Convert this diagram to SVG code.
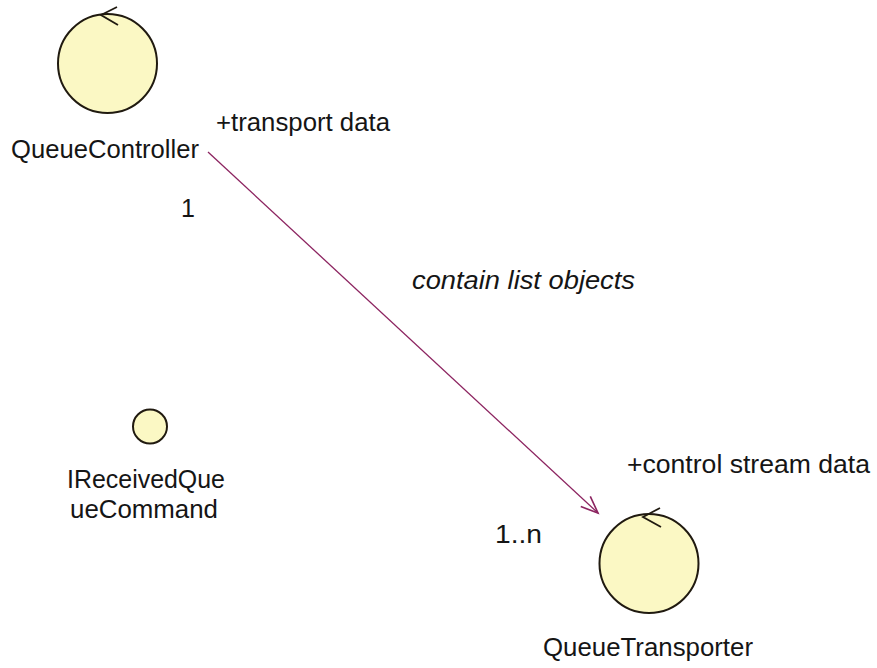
<svg xmlns="http://www.w3.org/2000/svg" width="877" height="668" viewBox="0 0 877 668">
<style>
.node{fill:#fbf8c4;stroke:#201a10;stroke-width:2}
.lbl{font-family:"Liberation Sans",Arial,sans-serif;font-size:25px;fill:#151515}
.it{font-style:italic}
.conn{stroke:#8c2460;stroke-width:1.3;fill:none}
.tick{stroke:#201a10;stroke-width:1.8;fill:none}
</style>
<defs>
<marker id="open" markerWidth="24" markerHeight="24" refX="20" refY="10" orient="auto" markerUnits="userSpaceOnUse">
<path d="M3,3 L20,10 L3,17" fill="none" stroke="#8c2460" stroke-width="1.6"/>
</marker>
</defs>
<rect width="877" height="668" fill="#ffffff"/>
<g id="QueueController">
<circle class="node" cx="107.5" cy="63.5" r="49.5"/>
<path class="tick" d="M117,7 L101,15 L118,25"/>
<text class="lbl" x="11" y="158" textLength="188" lengthAdjust="spacingAndGlyphs">QueueController</text>
</g>
<g id="IReceivedQueueCommand">
<circle class="node" cx="150" cy="426.5" r="17" stroke-width="1.6"/>
<text class="lbl" x="67" y="488" textLength="158" lengthAdjust="spacingAndGlyphs">IReceivedQue</text>
<text class="lbl" x="70" y="518" textLength="148" lengthAdjust="spacingAndGlyphs">ueCommand</text>
</g>
<g id="QueueTransporter">
<circle class="node" cx="649" cy="563.5" r="49.5"/>
<path class="tick" d="M660,508 L643,517 L661,527"/>
<text class="lbl" x="543" y="656" textLength="210" lengthAdjust="spacingAndGlyphs">QueueTransporter</text>
</g>
<g id="connectors">
<line class="conn" x1="208" y1="152" x2="598" y2="513" marker-end="url(#open)"/>
<text class="lbl" x="216" y="131" textLength="174" lengthAdjust="spacingAndGlyphs">+transport data</text>
<text class="lbl" x="181" y="217">1</text>
<text class="lbl it" x="412" y="289" textLength="223" lengthAdjust="spacingAndGlyphs">contain list objects</text>
<text class="lbl" x="627" y="473" textLength="243" lengthAdjust="spacingAndGlyphs">+control stream data</text>
<text class="lbl" x="495" y="543" textLength="47" lengthAdjust="spacingAndGlyphs">1..n</text>
</g>
</svg>
